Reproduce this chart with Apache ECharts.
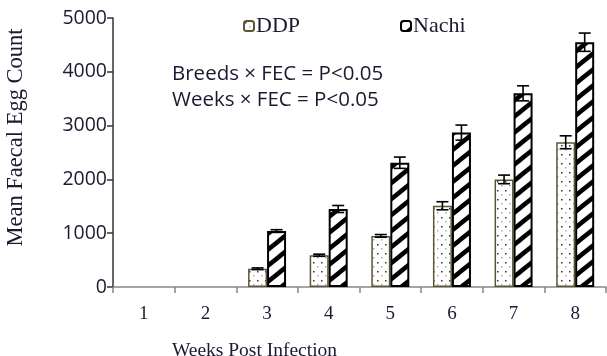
<!DOCTYPE html>
<html><head><meta charset="utf-8">
<script src="https://cdn.jsdelivr.net/npm/echarts@6/dist/echarts.min.js"></script>
<style>html,body{margin:0;padding:0;background:#fff}#c{width:607px;height:356px}</style>
</head><body><div id="c"></div>
<script>
var weeks = ['1','2','3','4','5','6','7','8'];
var ddp = [0, 0, 340, 590, 950, 1510, 2000, 2690];
var ddpErr = [0, 0, 15, 20, 25, 75, 80, 120];
var nachi = [0, 0, 1040, 1450, 2310, 2870, 3600, 4550];
var nachiErr = [0, 0, 25, 65, 105, 140, 140, 170];
var yTicks = [0, 1000, 2000, 3000, 4000, 5000];

function dotPattern(){
  var c = document.createElement('canvas'); c.width = 8; c.height = 9;
  var g = c.getContext('2d');
  g.fillStyle = '#fff'; g.fillRect(0,0,8,9);
  g.fillStyle = '#333'; g.fillRect(1,1,1.5,1.5);
  g.fillStyle = '#aaa'; g.fillRect(5,5,1.5,1.5);
  return c;
}
function stripePattern(){
  var W = 20, H = 16;
  var c = document.createElement('canvas'); c.width = W; c.height = H;
  var g = c.getContext('2d');
  g.fillStyle = '#fff'; g.fillRect(0,0,W,H);
  g.strokeStyle = '#000'; g.lineWidth = 4.5;
  [-H, 0, H].forEach(function(o){
    g.beginPath(); g.moveTo(-W*0.1, H + o + H*0.1); g.lineTo(W*1.1, o - H*0.1); g.stroke();
  });
  return c;
}

function errSeries(vals, errs, offset){
  return {
    type: 'custom', silent: true, z: 5,
    data: vals.map(function(v,i){ return [i, v, errs[i]]; }),
    renderItem: function(params, api){
      var v = api.value(1), e = api.value(2);
      if (!v) return;
      var top = api.coord([api.value(0), v + e]);
      var bot = api.coord([api.value(0), v - e]);
      var x = top[0] + offset;
      var hw = 6;
      var st = {stroke: '#000', lineWidth: 1.6};
      return {type: 'group', children: [
        {type: 'line', shape: {x1: x, y1: top[1], x2: x, y2: bot[1]}, style: st},
        {type: 'line', shape: {x1: x-hw, y1: top[1], x2: x+hw, y2: top[1]}, style: st},
        {type: 'line', shape: {x1: x-hw, y1: bot[1], x2: x+hw, y2: bot[1]}, style: st}
      ]};
    }
  };
}
function hideZero(arr){ return arr.map(function(v){ return v === 0 ? '-' : v; }); }

var chart = echarts.init(document.getElementById('c'));
var serif = '"Liberation Serif", "DejaVu Serif", serif';
var sans = '"Open Sans", "Liberation Sans", sans-serif';
var ink = '#1a1a30';
chart.setOption({
  animation: false,
  grid: {left: 113, right: 1, top: 18, bottom: 69, containLabel: false, outerBoundsMode: 'none'},
  legend: {
    data: ['DDP', 'Nachi'], left: 243, top: 15, padding: 0, itemWidth: 10, itemHeight: 10, itemGap: 100,
    textStyle: {fontFamily: serif, fontSize: 22, color: ink, padding: [0, 0, 0, -3]}
  },
  xAxis: {
    type: 'category', data: weeks,
    name: 'Weeks Post Infection', nameLocation: 'middle', nameGap: 54,
    nameTextStyle: {fontFamily: serif, fontSize: 19.5, color: ink, padding: [0, 210, 0, 0]},
    axisLine: {lineStyle: {color: '#888', width: 1.5}},
    axisTick: {show: true, alignWithLabel: false, length: 6, lineStyle: {color: '#888', width: 1.5}},
    axisLabel: {fontFamily: serif, fontSize: 19, color: ink, margin: 18}
  },
  yAxis: {
    type: 'value', min: 0, max: 5000, interval: 1000,
    name: 'Mean Faecal Egg Count', nameLocation: 'middle', nameGap: 85, nameRotate: 90,
    nameTextStyle: {fontFamily: serif, fontSize: 22.5, color: ink, padding: [0, 0, 0, 30]},
    axisLine: {show: true, lineStyle: {color: '#333', width: 1.5}},
    axisTick: {show: true, length: 6, lineStyle: {color: '#333', width: 1.5}},
    splitLine: {show: false},
    axisLabel: {fontFamily: sans, fontSize: 19.5, color: ink, margin: 6,
      formatter: function(v){ return yTicks.indexOf(v) >= 0 ? String(v) : ''; }}
  },
  graphic: [
    {type: 'text', left: 172, top: 64, style: {text: 'Breeds × FEC = P<0.05', font: '20.5px ' + sans, fill: ink}},
    {type: 'text', left: 172, top: 90, style: {text: 'Weeks × FEC = P<0.05', font: '20.5px ' + sans, fill: ink}}
  ],
  series: [
    {name: 'DDP', type: 'bar', data: hideZero(ddp), barWidth: 19, barGap: '0%',
     itemStyle: {color: {image: dotPattern(), repeat: 'repeat'}, borderColor: '#5e5535', borderWidth: 1.5}},
    {name: 'Nachi', type: 'bar', data: hideZero(nachi), barWidth: 19, barGap: '0%',
     itemStyle: {color: {image: stripePattern(), repeat: 'repeat'}, borderColor: '#000', borderWidth: 2}},
    errSeries(ddp, ddpErr, -9.5),
    errSeries(nachi, nachiErr, 9.5)
  ]
});
</script></body></html>
